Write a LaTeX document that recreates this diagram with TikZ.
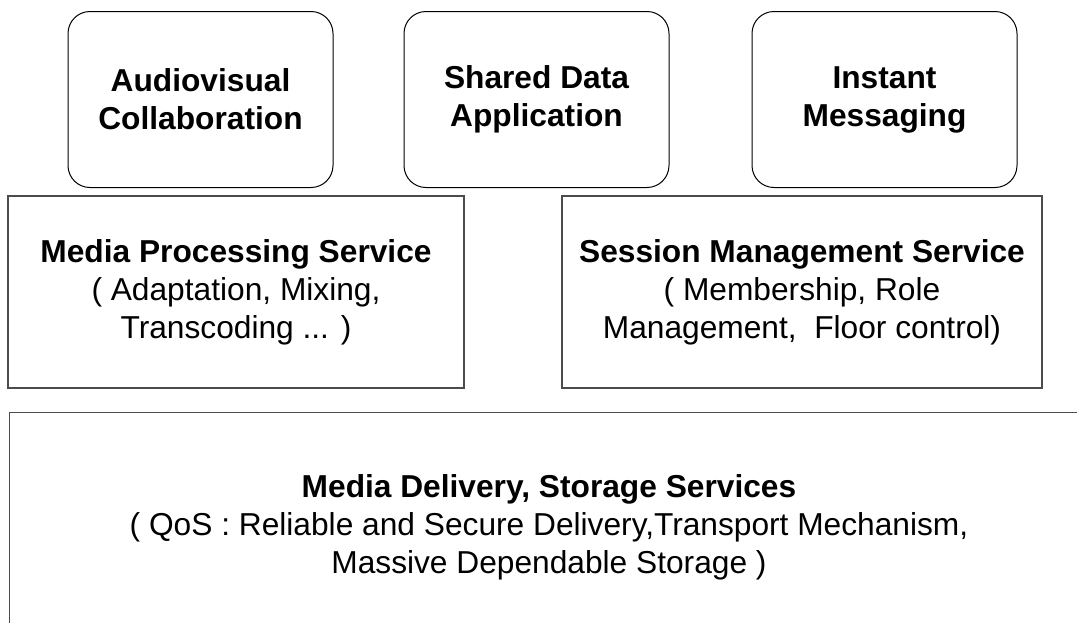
\documentclass[tikz,border=0pt]{standalone}
\usepackage{fontspec}
\setmainfont{Liberation Sans}
\begin{document}
\begin{tikzpicture}[x=1pt,y=-1pt,
  appbox/.style={draw=black, line width=1pt, rounded corners=22pt, inner sep=0pt,
    align=center, font=\fontsize{31.7}{38}\selectfont\bfseries,
    minimum width=265pt, minimum height=176pt},
  svcbox/.style={draw=black!70, line width=1.3pt, inner sep=0pt},
  lbl/.style={align=center, inner sep=0pt, font=\fontsize{31.7}{38}\selectfont}]
\useasboundingbox (0,0) rectangle (1077,622);
% top application boxes
\node[appbox] (av) at (200.5,99.5) {Audiovisual\\Collaboration};
\node[appbox] (sd) at (536.5,99.5) {Shared Data\\Application};
\node[appbox] (im) at (884.5,99.5) {Instant\\Messaging};
% middle service boxes
\node[svcbox, lbl, minimum width=456pt, minimum height=192pt] (mp) at (236,292)
  {\textbf{Media Processing Service}\\( Adaptation, Mixing,\\Transcoding ... )};
\node[svcbox, lbl, minimum width=480pt, minimum height=192pt] (sm) at (802,292)
  {\textbf{Session Management Service}\\( Membership, Role\\Management,\ \ Floor control)};
% bottom delivery box (cut by picture edge)
\begin{scope}
\clip (0,0) rectangle (1077,622);
\node[svcbox, minimum width=1111pt, minimum height=240pt, anchor=north west] (md) at (9,412) {};
\end{scope}
\node[lbl] (mdt) at (549,527) {\textbf{Media Delivery, Storage Services}\\( QoS : Reliable and Secure Delivery,Transport Mechanism,\\Massive Dependable Storage )};
\end{tikzpicture}
\end{document}
